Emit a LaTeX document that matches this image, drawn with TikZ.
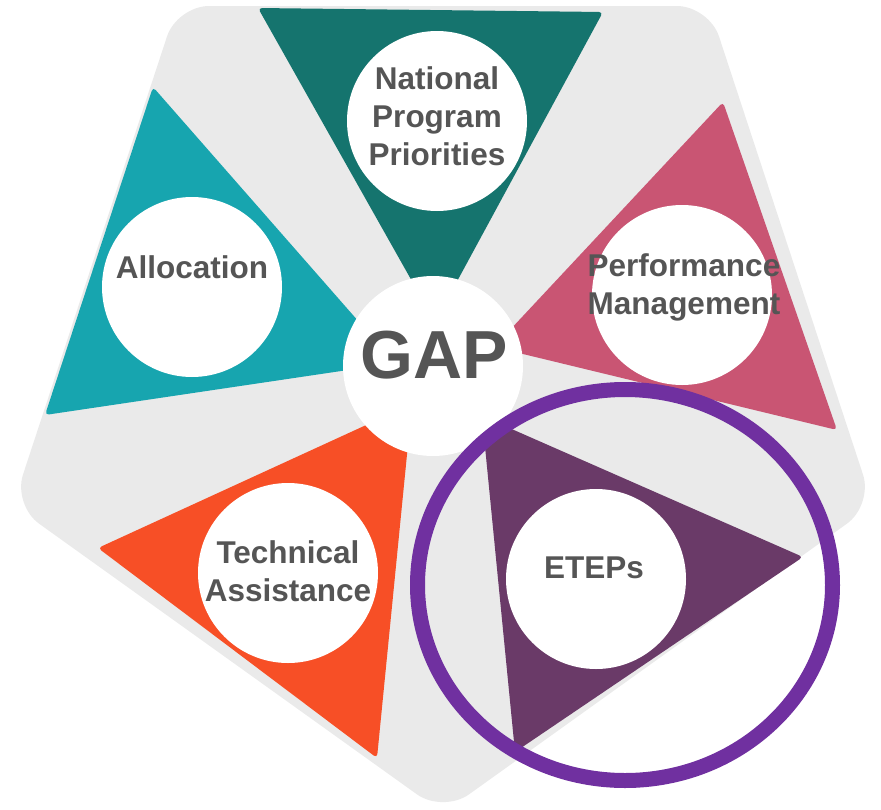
\documentclass[tikz,border=0pt]{standalone}
\usepackage{fontspec}
\setmainfont{Liberation Sans}
\definecolor{bggrey}{HTML}{EAEAEA}
\definecolor{tealdark}{HTML}{15746E}
\definecolor{teallight}{HTML}{17A5AF}
\definecolor{pinkc}{HTML}{C95573}
\definecolor{orangec}{HTML}{F74F26}
\definecolor{plumc}{HTML}{6A3A68}
\definecolor{ringc}{HTML}{7030A0}
\definecolor{txt}{HTML}{555555}
\begin{document}
\begin{tikzpicture}[x=1pt,y=-1pt,
  lbl/.style={text=txt, font=\bfseries\fontsize{31.5}{38}\selectfont, align=center, inner sep=0pt},
  disc/.style={circle, fill=white, minimum size=180pt, inner sep=0pt},
  tri/.style={rounded corners=4pt}]
\useasboundingbox (0,0) rectangle (881,809);
% grey pentagon
\fill[bggrey, rounded corners=32pt] (177,6) -- (709,6) -- (873,505) -- (443,813) -- (13,505) -- cycle;
% triangles
\fill[tealdark, tri] (258,8) -- (603,12) -- (435,322) -- cycle;
\fill[pinkc, tri] (723,102) -- (837,430) -- (494,347) -- cycle;
\fill[plumc, tri] (803,557) -- (515,752) -- (482,416) -- cycle;
\fill[orangec, tri] (98,548) -- (377,758) -- (412,404) -- cycle;
\fill[teallight, tri] (153,87) -- (45,415) -- (395,363) -- cycle;
% white discs
\node[disc] (nppc) at (437,121) {};
\node[disc] (pmc) at (682,295) {};
\node[disc] (etc) at (596,579) {};
\node[disc] (tac) at (288,573) {};
\node[disc] (alc) at (192,287) {};
% labels
\node[lbl] (npp) at (437,116) {National\\Program\\Priorities};
\node[lbl] (pm) at (684,287) {Performance\\Management};
\node[lbl] (et) at (594,567.5) {ETEPs};
\node[lbl] (ta) at (288,571.5) {Technical\\Assistance};
\node[lbl] (al) at (192,267.5) {Allocation};
% centre
\node[disc] (gapc) at (433,366) {};
\node[text=txt, font=\bfseries\fontsize{68}{68}\selectfont, inner sep=0pt] (gap) at (434.5,355) {GAP};
% highlight ring
\draw[ringc, line width=15pt] (625,585) ellipse [x radius=207.5, y radius=195.5];
\end{tikzpicture}
\end{document}
